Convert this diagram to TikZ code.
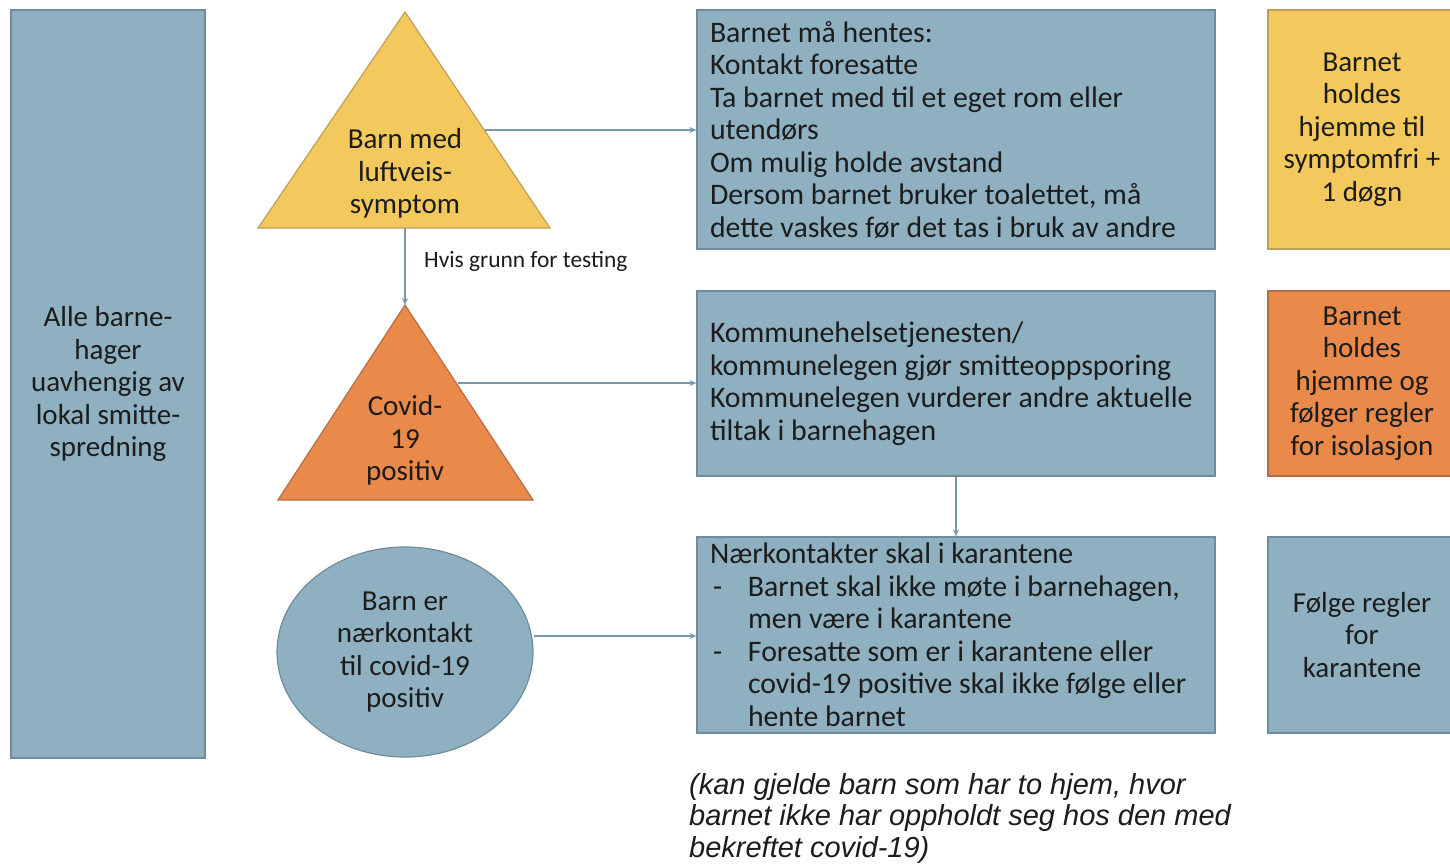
\documentclass[tikz,border=0pt]{standalone}
\usepackage{fontspec}
\setmainfont{Carlito}
\newfontfamily\arialfont{Liberation Sans}
\usetikzlibrary{arrows.meta,shapes.geometric}
\definecolor{boxblue}{RGB}{143,176,192}
\definecolor{boxblueline}{RGB}{112,140,156}
\definecolor{boxyellow}{RGB}{243,201,94}
\definecolor{boxyellowline}{RGB}{190,160,90}
\definecolor{boxorange}{RGB}{233,137,74}
\definecolor{boxorangeline}{RGB}{180,110,70}
\definecolor{arrowcol}{RGB}{122,152,172}
\definecolor{txt}{RGB}{28,28,28}
\tikzset{
  basefont/.style={font=\fontsize{29}{32.5}\selectfont, text=txt},
  bluebox/.style={draw=boxblueline, fill=boxblue, line width=1.2pt, basefont},
  yellowbox/.style={draw=boxyellowline, fill=boxyellow, line width=1.2pt, basefont},
  orangebox/.style={draw=boxorangeline, fill=boxorange, line width=1.2pt, basefont},
  mainbox/.style={bluebox, font=\fontsize{29.8}{32.5}\selectfont, inner xsep=13pt, inner ysep=0pt, text width=492pt, align=flush left, minimum width=518pt},
  sidebox/.style={inner sep=0pt, align=center, minimum width=188pt},
  conn/.style={draw=arrowcol, line width=1.3pt, -{Stealth[length=7pt,width=6pt]}},
  lbl/.style={basefont, align=center, inner sep=0pt}
}
\begin{document}
\begin{tikzpicture}[x=1pt,y=-1pt]
\useasboundingbox (0,0) rectangle (1450,863);
\clip (0,0) rectangle (1450,863);
\fill[white] (0,0) rectangle (1450,863);

% left tall box
\node[bluebox, minimum width=194pt, minimum height=748pt, inner sep=0pt, align=center] (all) at (108,384)
  {Alle barne-\\hager\\uavhengig av\\lokal smitte-\\spredning};

% triangle 1
\draw[fill=boxyellow, draw=boxyellowline, line width=1.2pt] (405,12) -- (550,228) -- (258,228) -- cycle;
\node[lbl] (t1) at (405,173.5) {Barn med\\luftveis-\\symptom};
\coordinate (t1r) at (485,130);
\coordinate (t1b) at (405,228);

% triangle 2
\draw[fill=boxorange, draw=boxorangeline, line width=1.2pt] (405,305) -- (533,500) -- (278,500) -- cycle;
\node[lbl] (t2) at (405,440.5) {Covid-\\19\\positiv};
\coordinate (t2t) at (405,305);
\coordinate (t2r) at (458,383);

% ellipse
\node[ellipse, bluebox, minimum width=256pt, minimum height=210pt, inner sep=0pt, align=center] (ell) at (405,652)
  {Barn er\\nærkontakt\\til covid-19\\positiv};

% main boxes
\node[mainbox, minimum height=239pt] (b1) at (956,129.5)
  {Barnet må hentes:\\Kontakt foresatte\\Ta barnet med til et eget rom eller\\utendørs\\Om mulig holde avstand\\Dersom barnet bruker toalettet, må\\dette vaskes før det tas i bruk av andre};
\node[mainbox, minimum height=185pt] (b2) at (956,383.5)
  {Kommunehelsetjenesten/\\kommunelegen gjør smitteoppsporing\\Kommunelegen vurderer andre aktuelle\\tiltak i barnehagen};
\node[mainbox, minimum height=196pt] (b3) at (956,635)
  {Nærkontakter skal i karantene\\
   \makebox[38pt][l]{\hspace{3pt}-}Barnet skal ikke møte i barnehagen,\\
   \hspace*{38pt}men være i karantene\\
   \makebox[38pt][l]{\hspace{3pt}-}Foresatte som er i karantene eller\\
   \hspace*{38pt}covid-19 positive skal ikke følge eller\\
   \hspace*{38pt}hente barnet};

% right boxes
\node[yellowbox, sidebox, minimum height=239pt] (r1) at (1362,129.5)
  {Barnet\\holdes\\hjemme til\\symptomfri +\\1 døgn};
\node[orangebox, sidebox, minimum height=185pt] (r2) at (1362,383.5)
  {Barnet\\holdes\\hjemme og\\følger regler\\for isolasjon};
\node[bluebox, sidebox, minimum height=196pt] (r3) at (1362,635)
  {Følge regler\\for\\karantene};

% connectors
\draw[conn] (t1r) -- (t1r -| b1.west);
\draw[conn] (t1b) -- (t2t);
\node[font=\fontsize{23.4}{26}\selectfont, text=txt, anchor=west, inner sep=0pt] (test) at (424,261) {Hvis grunn for testing};
\draw[conn] (t2r) -- (t2r -| b2.west);
\draw[conn] (ell.east |- 0,636) -- (b3.west |- 0,636);
\draw[conn] (b2.south) -- (b3.north);

% footnote
\node[font=\arialfont\itshape\fontsize{29}{31.5}\selectfont, text=txt, anchor=north west, inner sep=0pt, align=flush left] (note) at (689,773)
  {(kan gjelde barn som har to hjem, hvor\\barnet ikke har oppholdt seg hos den med\\bekreftet covid-19)};
\end{tikzpicture}
\end{document}
